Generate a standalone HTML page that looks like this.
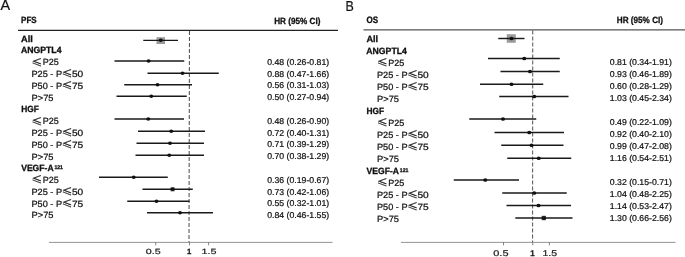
<!DOCTYPE html>
<html><head><meta charset="utf-8"><title>Forest plot</title>
<style>html,body{margin:0;padding:0;background:#fff}svg{display:block}</style></head>
<body><svg text-rendering="geometricPrecision" width="685" height="257" viewBox="0 0 685 257">
<rect width="685" height="257" fill="#fff"/>
<line x1="18" y1="30.4" x2="338" y2="30.4" stroke="#222" stroke-width="1.1" />
<line x1="189.45" y1="31" x2="189.0" y2="242" stroke="#333" stroke-width="0.9" stroke-dasharray="4 2"/>
<line x1="49" y1="242.4" x2="332.5" y2="242.4" stroke="#666" stroke-width="0.7" />
<line x1="363.5" y1="29.9" x2="685" y2="29.9" stroke="#555" stroke-width="1.4" />
<line x1="532.75" y1="30.5" x2="532.6" y2="242" stroke="#333" stroke-width="0.85" stroke-dasharray="4 2"/>
<line x1="401" y1="242.4" x2="675.5" y2="242.4" stroke="#666" stroke-width="0.7" />
<line x1="155.7" y1="242.4" x2="155.7" y2="245.4" stroke="#555" stroke-width="0.7" />
<line x1="189.5" y1="242.4" x2="189.5" y2="245.4" stroke="#555" stroke-width="0.7" />
<line x1="208.6" y1="242.4" x2="208.6" y2="245.4" stroke="#555" stroke-width="0.7" />
<line x1="503.5" y1="242.4" x2="503.5" y2="245.4" stroke="#555" stroke-width="0.7" />
<line x1="532.8" y1="242.4" x2="532.8" y2="245.4" stroke="#555" stroke-width="0.7" />
<line x1="549.4" y1="242.4" x2="549.4" y2="245.4" stroke="#555" stroke-width="0.7" />
<rect x="156.5" y="37.2" width="8.5" height="6.8" fill="#9a9a9a"/>
<line x1="143.25" y1="40.3" x2="178" y2="40.3" stroke="#1a1a1a" stroke-width="1.35" />
<ellipse cx="160.75" cy="40.3" rx="2.0" ry="1.75" fill="#111"/>
<line x1="114.5" y1="61.0" x2="184.25" y2="61.0" stroke="#1a1a1a" stroke-width="1.35" />
<ellipse cx="148.6" cy="61.0" rx="2.0" ry="1.75" fill="#111"/>
<line x1="147.5" y1="73.25" x2="218.75" y2="73.25" stroke="#1a1a1a" stroke-width="1.35" />
<ellipse cx="182.5" cy="73.25" rx="2.0" ry="1.75" fill="#111"/>
<line x1="124.25" y1="84.75" x2="192" y2="84.75" stroke="#1a1a1a" stroke-width="1.35" />
<ellipse cx="157.5" cy="84.75" rx="2.0" ry="1.75" fill="#111"/>
<line x1="116.5" y1="96.25" x2="186.75" y2="96.25" stroke="#1a1a1a" stroke-width="1.35" />
<ellipse cx="151.25" cy="96.25" rx="2.0" ry="1.75" fill="#111"/>
<line x1="114.5" y1="119" x2="184" y2="119" stroke="#1a1a1a" stroke-width="1.35" />
<ellipse cx="148.25" cy="119" rx="2.0" ry="1.75" fill="#111"/>
<line x1="138" y1="131.25" x2="205" y2="131.25" stroke="#1a1a1a" stroke-width="1.35" />
<ellipse cx="171.25" cy="131.25" rx="2.0" ry="1.75" fill="#111"/>
<line x1="136.5" y1="143.25" x2="204" y2="143.25" stroke="#1a1a1a" stroke-width="1.35" />
<ellipse cx="170" cy="143.25" rx="2.0" ry="1.75" fill="#111"/>
<line x1="135.5" y1="155.25" x2="204" y2="155.25" stroke="#1a1a1a" stroke-width="1.35" />
<ellipse cx="169.25" cy="155.25" rx="2.0" ry="1.75" fill="#111"/>
<line x1="99" y1="177.25" x2="167.75" y2="177.25" stroke="#1a1a1a" stroke-width="1.35" />
<ellipse cx="133.75" cy="177.25" rx="2.0" ry="1.75" fill="#111"/>
<rect x="170.6" y="187.3" width="4" height="4" fill="#4a4a4a"/>
<line x1="142.5" y1="189.25" x2="192.75" y2="189.25" stroke="#1a1a1a" stroke-width="1.35" />
<ellipse cx="172.5" cy="189.25" rx="2.0" ry="1.75" fill="#111"/>
<line x1="127.25" y1="201.25" x2="189.5" y2="201.25" stroke="#1a1a1a" stroke-width="1.35" />
<ellipse cx="156.5" cy="201.25" rx="2.0" ry="1.75" fill="#111"/>
<line x1="147" y1="212.75" x2="213" y2="212.75" stroke="#1a1a1a" stroke-width="1.35" />
<ellipse cx="180" cy="212.75" rx="2.0" ry="1.75" fill="#111"/>
<rect x="506.75" y="34.25" width="9" height="8.5" fill="#9a9a9a"/>
<line x1="498.25" y1="38.5" x2="524.5" y2="38.5" stroke="#1a1a1a" stroke-width="1.45" />
<ellipse cx="511.5" cy="38.5" rx="2.0" ry="1.85" fill="#111"/>
<line x1="488" y1="58.5" x2="559.75" y2="58.5" stroke="#1a1a1a" stroke-width="1.45" />
<ellipse cx="524.25" cy="58.5" rx="2.0" ry="1.85" fill="#111"/>
<line x1="500.5" y1="71.5" x2="559.75" y2="71.5" stroke="#1a1a1a" stroke-width="1.45" />
<ellipse cx="530" cy="71.5" rx="2.0" ry="1.85" fill="#111"/>
<line x1="480" y1="84.25" x2="543.25" y2="84.25" stroke="#1a1a1a" stroke-width="1.45" />
<ellipse cx="511.5" cy="84.25" rx="2.0" ry="1.85" fill="#111"/>
<line x1="499.25" y1="96.5" x2="568.5" y2="96.5" stroke="#1a1a1a" stroke-width="1.45" />
<ellipse cx="534.25" cy="96.5" rx="2.0" ry="1.85" fill="#111"/>
<line x1="469.25" y1="119" x2="536.25" y2="119" stroke="#1a1a1a" stroke-width="1.45" />
<ellipse cx="503" cy="119" rx="2.0" ry="1.85" fill="#111"/>
<line x1="494.5" y1="132.5" x2="564" y2="132.5" stroke="#1a1a1a" stroke-width="1.45" />
<ellipse cx="529.25" cy="132.5" rx="2.0" ry="1.85" fill="#111"/>
<line x1="501.25" y1="145.25" x2="563.5" y2="145.25" stroke="#1a1a1a" stroke-width="1.45" />
<ellipse cx="531.5" cy="145.25" rx="2.0" ry="1.85" fill="#111"/>
<line x1="507.25" y1="158.25" x2="571.25" y2="158.25" stroke="#1a1a1a" stroke-width="1.45" />
<ellipse cx="538.75" cy="158.25" rx="2.0" ry="1.85" fill="#111"/>
<line x1="453.75" y1="180" x2="519" y2="180" stroke="#1a1a1a" stroke-width="1.45" />
<ellipse cx="485.25" cy="180" rx="2.0" ry="1.85" fill="#111"/>
<line x1="502.25" y1="193" x2="566.75" y2="193" stroke="#1a1a1a" stroke-width="1.45" />
<ellipse cx="534.25" cy="193" rx="2.0" ry="1.85" fill="#111"/>
<line x1="506.5" y1="205.5" x2="571" y2="205.5" stroke="#1a1a1a" stroke-width="1.45" />
<ellipse cx="538.5" cy="205.5" rx="2.0" ry="1.85" fill="#111"/>
<rect x="541.6" y="215.8" width="4.4" height="4.4" fill="#4a4a4a"/>
<line x1="515.3" y1="218.0" x2="572.5" y2="218.0" stroke="#1a1a1a" stroke-width="1.45" />
<ellipse cx="543.8" cy="218.0" rx="2.0" ry="1.85" fill="#111"/>
<text x="0.6" y="10.4" font-size="14.4" font-family='"Liberation Sans", Arial, sans-serif' fill="#111" stroke="#111" stroke-width="0.22">A</text>
<text x="345.6" y="11" font-size="14.4" font-family='"Liberation Sans", Arial, sans-serif' textLength="8.3" lengthAdjust="spacingAndGlyphs" fill="#111" stroke="#111" stroke-width="0.22">B</text>
<text x="21.099999999999998" y="23.1" font-size="9.0" font-family='"Liberation Sans", Arial, sans-serif' textLength="15.6" lengthAdjust="spacingAndGlyphs" font-weight="bold" fill="#111" stroke="#111" stroke-width="0.3">PFS</text>
<text x="21.0" y="42" font-size="9.0" font-family='"Liberation Sans", Arial, sans-serif' textLength="11.8" lengthAdjust="spacingAndGlyphs" font-weight="bold" fill="#111" stroke="#111" stroke-width="0.3">All</text>
<text x="20.9" y="53" font-size="9.0" font-family='"Liberation Sans", Arial, sans-serif' textLength="40.6" lengthAdjust="spacingAndGlyphs" font-weight="bold" fill="#111" stroke="#111" stroke-width="0.3">ANGPTL4</text>
<text x="31.599999999999998" y="66" font-size="9.8" font-family='"Noto Sans CJK SC", "Liberation Sans", sans-serif' textLength="10.7" lengthAdjust="spacingAndGlyphs" fill="#111" stroke="#111" stroke-width="0.22">≤</text>
<text x="42.7" y="65" font-size="9.0" font-family='"Liberation Sans", Arial, sans-serif' textLength="16.0" lengthAdjust="spacingAndGlyphs" fill="#111" stroke="#111" stroke-width="0.22">P25</text>
<text x="31.5" y="77" font-size="9.0" font-family='"Liberation Sans", Arial, sans-serif' textLength="30.6" lengthAdjust="spacingAndGlyphs" fill="#111" stroke="#111" stroke-width="0.22">P25 - P</text>
<text x="61.7" y="77" font-size="9.8" font-family='"Noto Sans CJK SC", "Liberation Sans", sans-serif' textLength="10.7" lengthAdjust="spacingAndGlyphs" fill="#111" stroke="#111" stroke-width="0.22">≤</text>
<text x="71.9" y="77" font-size="9.0" font-family='"Liberation Sans", Arial, sans-serif' textLength="11.3" lengthAdjust="spacingAndGlyphs" fill="#111" stroke="#111" stroke-width="0.22">50</text>
<text x="31.5" y="89" font-size="9.0" font-family='"Liberation Sans", Arial, sans-serif' textLength="30.6" lengthAdjust="spacingAndGlyphs" fill="#111" stroke="#111" stroke-width="0.22">P50 - P</text>
<text x="61.7" y="89" font-size="9.8" font-family='"Noto Sans CJK SC", "Liberation Sans", sans-serif' textLength="10.7" lengthAdjust="spacingAndGlyphs" fill="#111" stroke="#111" stroke-width="0.22">≤</text>
<text x="71.9" y="89" font-size="9.0" font-family='"Liberation Sans", Arial, sans-serif' textLength="11.3" lengthAdjust="spacingAndGlyphs" fill="#111" stroke="#111" stroke-width="0.22">75</text>
<text x="31.5" y="101" font-size="9.0" font-family='"Liberation Sans", Arial, sans-serif' textLength="22" lengthAdjust="spacingAndGlyphs" fill="#111" stroke="#111" stroke-width="0.22">P&gt;75</text>
<text x="21.2" y="112" font-size="9.0" font-family='"Liberation Sans", Arial, sans-serif' textLength="17.6" lengthAdjust="spacingAndGlyphs" font-weight="bold" fill="#111" stroke="#111" stroke-width="0.3">HGF</text>
<text x="31.599999999999998" y="125" font-size="9.8" font-family='"Noto Sans CJK SC", "Liberation Sans", sans-serif' textLength="10.7" lengthAdjust="spacingAndGlyphs" fill="#111" stroke="#111" stroke-width="0.22">≤</text>
<text x="42.7" y="124" font-size="9.0" font-family='"Liberation Sans", Arial, sans-serif' textLength="16.0" lengthAdjust="spacingAndGlyphs" fill="#111" stroke="#111" stroke-width="0.22">P25</text>
<text x="31.5" y="136" font-size="9.0" font-family='"Liberation Sans", Arial, sans-serif' textLength="30.6" lengthAdjust="spacingAndGlyphs" fill="#111" stroke="#111" stroke-width="0.22">P25 - P</text>
<text x="61.7" y="136" font-size="9.8" font-family='"Noto Sans CJK SC", "Liberation Sans", sans-serif' textLength="10.7" lengthAdjust="spacingAndGlyphs" fill="#111" stroke="#111" stroke-width="0.22">≤</text>
<text x="71.9" y="136" font-size="9.0" font-family='"Liberation Sans", Arial, sans-serif' textLength="11.3" lengthAdjust="spacingAndGlyphs" fill="#111" stroke="#111" stroke-width="0.22">50</text>
<text x="31.5" y="148" font-size="9.0" font-family='"Liberation Sans", Arial, sans-serif' textLength="30.6" lengthAdjust="spacingAndGlyphs" fill="#111" stroke="#111" stroke-width="0.22">P50 - P</text>
<text x="61.7" y="148" font-size="9.8" font-family='"Noto Sans CJK SC", "Liberation Sans", sans-serif' textLength="10.7" lengthAdjust="spacingAndGlyphs" fill="#111" stroke="#111" stroke-width="0.22">≤</text>
<text x="71.9" y="148" font-size="9.0" font-family='"Liberation Sans", Arial, sans-serif' textLength="11.3" lengthAdjust="spacingAndGlyphs" fill="#111" stroke="#111" stroke-width="0.22">75</text>
<text x="31.5" y="160" font-size="9.0" font-family='"Liberation Sans", Arial, sans-serif' textLength="22" lengthAdjust="spacingAndGlyphs" fill="#111" stroke="#111" stroke-width="0.22">P&gt;75</text>
<text x="21.2" y="171" font-size="9.0" font-family='"Liberation Sans", Arial, sans-serif' textLength="32.4" lengthAdjust="spacingAndGlyphs" font-weight="bold" fill="#111" stroke="#111" stroke-width="0.3">VEGF-A</text>
<text x="54.4" y="168.5" font-size="5.3" font-family='"Liberation Sans", Arial, sans-serif' textLength="8.6" lengthAdjust="spacingAndGlyphs" font-weight="bold" fill="#111" stroke="#111" stroke-width="0.3">121</text>
<text x="31.599999999999998" y="183" font-size="9.8" font-family='"Noto Sans CJK SC", "Liberation Sans", sans-serif' textLength="10.7" lengthAdjust="spacingAndGlyphs" fill="#111" stroke="#111" stroke-width="0.22">≤</text>
<text x="42.7" y="183" font-size="9.0" font-family='"Liberation Sans", Arial, sans-serif' textLength="16.0" lengthAdjust="spacingAndGlyphs" fill="#111" stroke="#111" stroke-width="0.22">P25</text>
<text x="31.5" y="195" font-size="9.0" font-family='"Liberation Sans", Arial, sans-serif' textLength="30.6" lengthAdjust="spacingAndGlyphs" fill="#111" stroke="#111" stroke-width="0.22">P25 - P</text>
<text x="61.7" y="195" font-size="9.8" font-family='"Noto Sans CJK SC", "Liberation Sans", sans-serif' textLength="10.7" lengthAdjust="spacingAndGlyphs" fill="#111" stroke="#111" stroke-width="0.22">≤</text>
<text x="71.9" y="195" font-size="9.0" font-family='"Liberation Sans", Arial, sans-serif' textLength="11.3" lengthAdjust="spacingAndGlyphs" fill="#111" stroke="#111" stroke-width="0.22">50</text>
<text x="31.5" y="207" font-size="9.0" font-family='"Liberation Sans", Arial, sans-serif' textLength="30.6" lengthAdjust="spacingAndGlyphs" fill="#111" stroke="#111" stroke-width="0.22">P50 - P</text>
<text x="61.7" y="207" font-size="9.8" font-family='"Noto Sans CJK SC", "Liberation Sans", sans-serif' textLength="10.7" lengthAdjust="spacingAndGlyphs" fill="#111" stroke="#111" stroke-width="0.22">≤</text>
<text x="71.9" y="207" font-size="9.0" font-family='"Liberation Sans", Arial, sans-serif' textLength="11.3" lengthAdjust="spacingAndGlyphs" fill="#111" stroke="#111" stroke-width="0.22">75</text>
<text x="31.5" y="218" font-size="9.0" font-family='"Liberation Sans", Arial, sans-serif' textLength="22" lengthAdjust="spacingAndGlyphs" fill="#111" stroke="#111" stroke-width="0.22">P&gt;75</text>
<text x="366.5" y="22.8" font-size="9.4" font-family='"Liberation Sans", Arial, sans-serif' textLength="11.6" lengthAdjust="spacingAndGlyphs" font-weight="bold" fill="#111" stroke="#111" stroke-width="0.3">OS</text>
<text x="366.40000000000003" y="42" font-size="9.0" font-family='"Liberation Sans", Arial, sans-serif' textLength="11.8" lengthAdjust="spacingAndGlyphs" font-weight="bold" fill="#111" stroke="#111" stroke-width="0.3">All</text>
<text x="366.3" y="54" font-size="9.0" font-family='"Liberation Sans", Arial, sans-serif' textLength="40.6" lengthAdjust="spacingAndGlyphs" font-weight="bold" fill="#111" stroke="#111" stroke-width="0.3">ANGPTL4</text>
<text x="377.09999999999997" y="66" font-size="9.8" font-family='"Noto Sans CJK SC", "Liberation Sans", sans-serif' textLength="10.7" lengthAdjust="spacingAndGlyphs" fill="#111" stroke="#111" stroke-width="0.22">≤</text>
<text x="388.2" y="66" font-size="9.0" font-family='"Liberation Sans", Arial, sans-serif' textLength="16.0" lengthAdjust="spacingAndGlyphs" fill="#111" stroke="#111" stroke-width="0.22">P25</text>
<text x="377.0" y="78" font-size="9.0" font-family='"Liberation Sans", Arial, sans-serif' textLength="30.6" lengthAdjust="spacingAndGlyphs" fill="#111" stroke="#111" stroke-width="0.22">P25 - P</text>
<text x="407.2" y="78" font-size="9.8" font-family='"Noto Sans CJK SC", "Liberation Sans", sans-serif' textLength="10.7" lengthAdjust="spacingAndGlyphs" fill="#111" stroke="#111" stroke-width="0.22">≤</text>
<text x="417.4" y="78" font-size="9.0" font-family='"Liberation Sans", Arial, sans-serif' textLength="11.3" lengthAdjust="spacingAndGlyphs" fill="#111" stroke="#111" stroke-width="0.22">50</text>
<text x="377.0" y="90" font-size="9.0" font-family='"Liberation Sans", Arial, sans-serif' textLength="30.6" lengthAdjust="spacingAndGlyphs" fill="#111" stroke="#111" stroke-width="0.22">P50 - P</text>
<text x="407.2" y="90" font-size="9.8" font-family='"Noto Sans CJK SC", "Liberation Sans", sans-serif' textLength="10.7" lengthAdjust="spacingAndGlyphs" fill="#111" stroke="#111" stroke-width="0.22">≤</text>
<text x="417.4" y="90" font-size="9.0" font-family='"Liberation Sans", Arial, sans-serif' textLength="11.3" lengthAdjust="spacingAndGlyphs" fill="#111" stroke="#111" stroke-width="0.22">75</text>
<text x="377.0" y="102" font-size="9.0" font-family='"Liberation Sans", Arial, sans-serif' textLength="22" lengthAdjust="spacingAndGlyphs" fill="#111" stroke="#111" stroke-width="0.22">P&gt;75</text>
<text x="366.6" y="114" font-size="9.0" font-family='"Liberation Sans", Arial, sans-serif' textLength="17.6" lengthAdjust="spacingAndGlyphs" font-weight="bold" fill="#111" stroke="#111" stroke-width="0.3">HGF</text>
<text x="377.09999999999997" y="126" font-size="9.8" font-family='"Noto Sans CJK SC", "Liberation Sans", sans-serif' textLength="10.7" lengthAdjust="spacingAndGlyphs" fill="#111" stroke="#111" stroke-width="0.22">≤</text>
<text x="388.2" y="126" font-size="9.0" font-family='"Liberation Sans", Arial, sans-serif' textLength="16.0" lengthAdjust="spacingAndGlyphs" fill="#111" stroke="#111" stroke-width="0.22">P25</text>
<text x="377.0" y="138" font-size="9.0" font-family='"Liberation Sans", Arial, sans-serif' textLength="30.6" lengthAdjust="spacingAndGlyphs" fill="#111" stroke="#111" stroke-width="0.22">P25 - P</text>
<text x="407.2" y="138" font-size="9.8" font-family='"Noto Sans CJK SC", "Liberation Sans", sans-serif' textLength="10.7" lengthAdjust="spacingAndGlyphs" fill="#111" stroke="#111" stroke-width="0.22">≤</text>
<text x="417.4" y="138" font-size="9.0" font-family='"Liberation Sans", Arial, sans-serif' textLength="11.3" lengthAdjust="spacingAndGlyphs" fill="#111" stroke="#111" stroke-width="0.22">50</text>
<text x="377.0" y="150" font-size="9.0" font-family='"Liberation Sans", Arial, sans-serif' textLength="30.6" lengthAdjust="spacingAndGlyphs" fill="#111" stroke="#111" stroke-width="0.22">P50 - P</text>
<text x="407.2" y="150" font-size="9.8" font-family='"Noto Sans CJK SC", "Liberation Sans", sans-serif' textLength="10.7" lengthAdjust="spacingAndGlyphs" fill="#111" stroke="#111" stroke-width="0.22">≤</text>
<text x="417.4" y="150" font-size="9.0" font-family='"Liberation Sans", Arial, sans-serif' textLength="11.3" lengthAdjust="spacingAndGlyphs" fill="#111" stroke="#111" stroke-width="0.22">75</text>
<text x="377.0" y="162" font-size="9.0" font-family='"Liberation Sans", Arial, sans-serif' textLength="22" lengthAdjust="spacingAndGlyphs" fill="#111" stroke="#111" stroke-width="0.22">P&gt;75</text>
<text x="366.6" y="174" font-size="9.0" font-family='"Liberation Sans", Arial, sans-serif' textLength="32.4" lengthAdjust="spacingAndGlyphs" font-weight="bold" fill="#111" stroke="#111" stroke-width="0.3">VEGF-A</text>
<text x="399.8" y="171.5" font-size="5.3" font-family='"Liberation Sans", Arial, sans-serif' textLength="8.6" lengthAdjust="spacingAndGlyphs" font-weight="bold" fill="#111" stroke="#111" stroke-width="0.3">121</text>
<text x="377.09999999999997" y="186" font-size="9.8" font-family='"Noto Sans CJK SC", "Liberation Sans", sans-serif' textLength="10.7" lengthAdjust="spacingAndGlyphs" fill="#111" stroke="#111" stroke-width="0.22">≤</text>
<text x="388.2" y="186" font-size="9.0" font-family='"Liberation Sans", Arial, sans-serif' textLength="16.0" lengthAdjust="spacingAndGlyphs" fill="#111" stroke="#111" stroke-width="0.22">P25</text>
<text x="377.0" y="198" font-size="9.0" font-family='"Liberation Sans", Arial, sans-serif' textLength="30.6" lengthAdjust="spacingAndGlyphs" fill="#111" stroke="#111" stroke-width="0.22">P25 - P</text>
<text x="407.2" y="198" font-size="9.8" font-family='"Noto Sans CJK SC", "Liberation Sans", sans-serif' textLength="10.7" lengthAdjust="spacingAndGlyphs" fill="#111" stroke="#111" stroke-width="0.22">≤</text>
<text x="417.4" y="198" font-size="9.0" font-family='"Liberation Sans", Arial, sans-serif' textLength="11.3" lengthAdjust="spacingAndGlyphs" fill="#111" stroke="#111" stroke-width="0.22">50</text>
<text x="377.0" y="210" font-size="9.0" font-family='"Liberation Sans", Arial, sans-serif' textLength="30.6" lengthAdjust="spacingAndGlyphs" fill="#111" stroke="#111" stroke-width="0.22">P50 - P</text>
<text x="407.2" y="210" font-size="9.8" font-family='"Noto Sans CJK SC", "Liberation Sans", sans-serif' textLength="10.7" lengthAdjust="spacingAndGlyphs" fill="#111" stroke="#111" stroke-width="0.22">≤</text>
<text x="417.4" y="210" font-size="9.0" font-family='"Liberation Sans", Arial, sans-serif' textLength="11.3" lengthAdjust="spacingAndGlyphs" fill="#111" stroke="#111" stroke-width="0.22">75</text>
<text x="377.0" y="222" font-size="9.0" font-family='"Liberation Sans", Arial, sans-serif' textLength="22" lengthAdjust="spacingAndGlyphs" fill="#111" stroke="#111" stroke-width="0.22">P&gt;75</text>
<text x="274.2" y="24.2" font-size="9.0" font-family='"Liberation Sans", Arial, sans-serif' textLength="46.2" lengthAdjust="spacingAndGlyphs" font-weight="bold" fill="#111" stroke="#111" stroke-width="0.3">HR (95% CI)</text>
<text x="616.8" y="23.1" font-size="9.0" font-family='"Liberation Sans", Arial, sans-serif' textLength="46.2" lengthAdjust="spacingAndGlyphs" font-weight="bold" fill="#111" stroke="#111" stroke-width="0.3">HR (95% CI)</text>
<text x="267.2" y="64.7" font-size="8.5" font-family='"Liberation Sans", Arial, sans-serif' textLength="62" lengthAdjust="spacingAndGlyphs" fill="#111" stroke="#111" stroke-width="0.22">0.48 (0.26-0.81)</text>
<text x="267.2" y="76.51" font-size="8.5" font-family='"Liberation Sans", Arial, sans-serif' textLength="62" lengthAdjust="spacingAndGlyphs" fill="#111" stroke="#111" stroke-width="0.22">0.88 (0.47-1.66)</text>
<text x="267.2" y="88.32" font-size="8.5" font-family='"Liberation Sans", Arial, sans-serif' textLength="62" lengthAdjust="spacingAndGlyphs" fill="#111" stroke="#111" stroke-width="0.22">0.56 (0.31-1.03)</text>
<text x="267.2" y="100.13" font-size="8.5" font-family='"Liberation Sans", Arial, sans-serif' textLength="62" lengthAdjust="spacingAndGlyphs" fill="#111" stroke="#111" stroke-width="0.22">0.50 (0.27-0.94)</text>
<text x="267.2" y="123.75" font-size="8.5" font-family='"Liberation Sans", Arial, sans-serif' textLength="62" lengthAdjust="spacingAndGlyphs" fill="#111" stroke="#111" stroke-width="0.22">0.48 (0.26-0.90)</text>
<text x="267.2" y="135.56" font-size="8.5" font-family='"Liberation Sans", Arial, sans-serif' textLength="62" lengthAdjust="spacingAndGlyphs" fill="#111" stroke="#111" stroke-width="0.22">0.72 (0.40-1.31)</text>
<text x="267.2" y="147.37" font-size="8.5" font-family='"Liberation Sans", Arial, sans-serif' textLength="62" lengthAdjust="spacingAndGlyphs" fill="#111" stroke="#111" stroke-width="0.22">0.71 (0.39-1.29)</text>
<text x="267.2" y="159.18" font-size="8.5" font-family='"Liberation Sans", Arial, sans-serif' textLength="62" lengthAdjust="spacingAndGlyphs" fill="#111" stroke="#111" stroke-width="0.22">0.70 (0.38-1.29)</text>
<text x="267.2" y="182.8" font-size="8.5" font-family='"Liberation Sans", Arial, sans-serif' textLength="62" lengthAdjust="spacingAndGlyphs" fill="#111" stroke="#111" stroke-width="0.22">0.36 (0.19-0.67)</text>
<text x="267.2" y="194.61" font-size="8.5" font-family='"Liberation Sans", Arial, sans-serif' textLength="62" lengthAdjust="spacingAndGlyphs" fill="#111" stroke="#111" stroke-width="0.22">0.73 (0.42-1.06)</text>
<text x="267.2" y="206.42" font-size="8.5" font-family='"Liberation Sans", Arial, sans-serif' textLength="62" lengthAdjust="spacingAndGlyphs" fill="#111" stroke="#111" stroke-width="0.22">0.55 (0.32-1.01)</text>
<text x="267.2" y="218.23" font-size="8.5" font-family='"Liberation Sans", Arial, sans-serif' textLength="62" lengthAdjust="spacingAndGlyphs" fill="#111" stroke="#111" stroke-width="0.22">0.84 (0.46-1.55)</text>
<text x="609.8" y="65.1" font-size="8.5" font-family='"Liberation Sans", Arial, sans-serif' textLength="62" lengthAdjust="spacingAndGlyphs" fill="#111" stroke="#111" stroke-width="0.22">0.81 (0.34-1.91)</text>
<text x="609.8" y="77.12" font-size="8.5" font-family='"Liberation Sans", Arial, sans-serif' textLength="62" lengthAdjust="spacingAndGlyphs" fill="#111" stroke="#111" stroke-width="0.22">0.93 (0.46-1.89)</text>
<text x="609.8" y="89.14" font-size="8.5" font-family='"Liberation Sans", Arial, sans-serif' textLength="62" lengthAdjust="spacingAndGlyphs" fill="#111" stroke="#111" stroke-width="0.22">0.60 (0.28-1.29)</text>
<text x="609.8" y="101.16" font-size="8.5" font-family='"Liberation Sans", Arial, sans-serif' textLength="62" lengthAdjust="spacingAndGlyphs" fill="#111" stroke="#111" stroke-width="0.22">1.03 (0.45-2.34)</text>
<text x="609.8" y="125.2" font-size="8.5" font-family='"Liberation Sans", Arial, sans-serif' textLength="62" lengthAdjust="spacingAndGlyphs" fill="#111" stroke="#111" stroke-width="0.22">0.49 (0.22-1.09)</text>
<text x="609.8" y="137.22" font-size="8.5" font-family='"Liberation Sans", Arial, sans-serif' textLength="62" lengthAdjust="spacingAndGlyphs" fill="#111" stroke="#111" stroke-width="0.22">0.92 (0.40-2.10)</text>
<text x="609.8" y="149.24" font-size="8.5" font-family='"Liberation Sans", Arial, sans-serif' textLength="62" lengthAdjust="spacingAndGlyphs" fill="#111" stroke="#111" stroke-width="0.22">0.99 (0.47-2.08)</text>
<text x="609.8" y="161.26" font-size="8.5" font-family='"Liberation Sans", Arial, sans-serif' textLength="62" lengthAdjust="spacingAndGlyphs" fill="#111" stroke="#111" stroke-width="0.22">1.16 (0.54-2.51)</text>
<text x="609.8" y="185.3" font-size="8.5" font-family='"Liberation Sans", Arial, sans-serif' textLength="62" lengthAdjust="spacingAndGlyphs" fill="#111" stroke="#111" stroke-width="0.22">0.32 (0.15-0.71)</text>
<text x="609.8" y="197.32" font-size="8.5" font-family='"Liberation Sans", Arial, sans-serif' textLength="62" lengthAdjust="spacingAndGlyphs" fill="#111" stroke="#111" stroke-width="0.22">1.04 (0.48-2.25)</text>
<text x="609.8" y="209.34" font-size="8.5" font-family='"Liberation Sans", Arial, sans-serif' textLength="62" lengthAdjust="spacingAndGlyphs" fill="#111" stroke="#111" stroke-width="0.22">1.14 (0.53-2.47)</text>
<text x="609.8" y="221.36" font-size="8.5" font-family='"Liberation Sans", Arial, sans-serif' textLength="62" lengthAdjust="spacingAndGlyphs" fill="#111" stroke="#111" stroke-width="0.22">1.30 (0.66-2.56)</text>
<text x="145.8" y="254.0" font-size="7.5" font-family='"Liberation Sans", Arial, sans-serif' textLength="14.8" lengthAdjust="spacingAndGlyphs" fill="#222" stroke="#222" stroke-width="0.22">0.5</text>
<text x="187.0" y="254.0" font-size="7.5" font-family='"Liberation Sans", Arial, sans-serif' textLength="4.3" lengthAdjust="spacingAndGlyphs" font-weight="bold" fill="#222" stroke="#222" stroke-width="0.3">1</text>
<text x="201.6" y="254.0" font-size="7.5" font-family='"Liberation Sans", Arial, sans-serif' textLength="14.9" lengthAdjust="spacingAndGlyphs" fill="#222" stroke="#222" stroke-width="0.22">1.5</text>
<text x="493.3" y="255.8" font-size="8.3" font-family='"Liberation Sans", Arial, sans-serif' textLength="15.2" lengthAdjust="spacingAndGlyphs" fill="#222" stroke="#222" stroke-width="0.22">0.5</text>
<text x="530.3" y="255.8" font-size="8.3" font-family='"Liberation Sans", Arial, sans-serif' textLength="4.4" lengthAdjust="spacingAndGlyphs" font-weight="bold" fill="#222" stroke="#222" stroke-width="0.3">1</text>
<text x="542.5" y="255.8" font-size="8.3" font-family='"Liberation Sans", Arial, sans-serif' textLength="14.6" lengthAdjust="spacingAndGlyphs" fill="#222" stroke="#222" stroke-width="0.22">1.5</text>
</svg></body></html>
